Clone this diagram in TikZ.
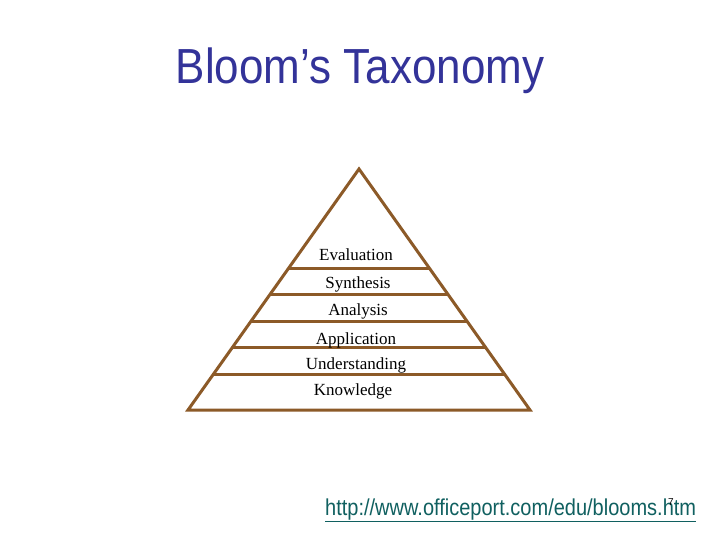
\documentclass[tikz,border=0pt]{standalone}
\usepackage{fontspec}
\setmainfont{Liberation Serif}
\setsansfont{Liberation Sans}
\usetikzlibrary{calc}
\definecolor{titleblue}{RGB}{51,51,153}
\definecolor{linkteal}{RGB}{16,96,96}
\definecolor{pyrbrown}{RGB}{140,90,40}

\begin{document}
\begin{tikzpicture}[x=1pt, y=-1pt,
    level/.style = {font=\fontsize{17}{20}\selectfont, anchor=base, inner sep=0pt},
    tier/.style = {draw=pyrbrown, line width=3pt}]
    \useasboundingbox [fill=white] (0,0) rectangle (720,540);
    % \draw [help lines, step=20] (0,0) grid (720,540);
    \node (title) [anchor=base, inner sep=0pt, text=titleblue,
        font=\sffamily\fontsize{44}{50}\selectfont] at (360,83.5)
        {\scalebox{1}[1.12]{Bloom’s Taxonomy}};

    % pyramid outline
    \coordinate (apex) at (359,169);
    \coordinate (baseL) at (188,410);
    \coordinate (baseR) at (530,410);
    \draw [tier, line join=miter] (baseL) -- (apex) -- (baseR) -- cycle;

    % tier boundaries
    \coordinate (evalL) at ($(apex)!0.411!(baseL)$);
    \coordinate (evalR) at ($(apex)!0.411!(baseR)$);
    \coordinate (synL) at ($(apex)!0.521!(baseL)$);
    \coordinate (synR) at ($(apex)!0.521!(baseR)$);
    \coordinate (anaL) at ($(apex)!0.631!(baseL)$);
    \coordinate (anaR) at ($(apex)!0.631!(baseR)$);
    \coordinate (appL) at ($(apex)!0.741!(baseL)$);
    \coordinate (appR) at ($(apex)!0.741!(baseR)$);
    \coordinate (undL) at ($(apex)!0.852!(baseL)$);
    \coordinate (undR) at ($(apex)!0.852!(baseR)$);
    \draw [tier] (evalL) -- (evalR);
    \draw [tier] (synL) -- (synR);
    \draw [tier] (anaL) -- (anaR);
    \draw [tier] (appL) -- (appR);
    \draw [tier] (undL) -- (undR);

    \node (eval) [level] at (356,260.7) {Evaluation};
    \node (syn) [level] at (358,288) {Synthesis};
    \node (ana) [level] at (358,315.7) {Analysis};
    \node (app) [level] at (356,344) {Application};
    \node (und) [level] at (356,369) {Understanding};
    \node (know) [level] at (353,395) {Knowledge};

    \node (link) [anchor=base west, inner sep=0pt, text=linkteal,
        font=\sffamily\fontsize{20}{24}\selectfont] at (325,515)
        {\scalebox{1}[1.15]{\underline{http://www.officeport.com/edu/blooms.htm}}};
    \node (page) [anchor=base, inner sep=0pt,
        font=\sffamily\fontsize{10}{12}\selectfont] at (671,505) {7};
\end{tikzpicture}
\end{document}
